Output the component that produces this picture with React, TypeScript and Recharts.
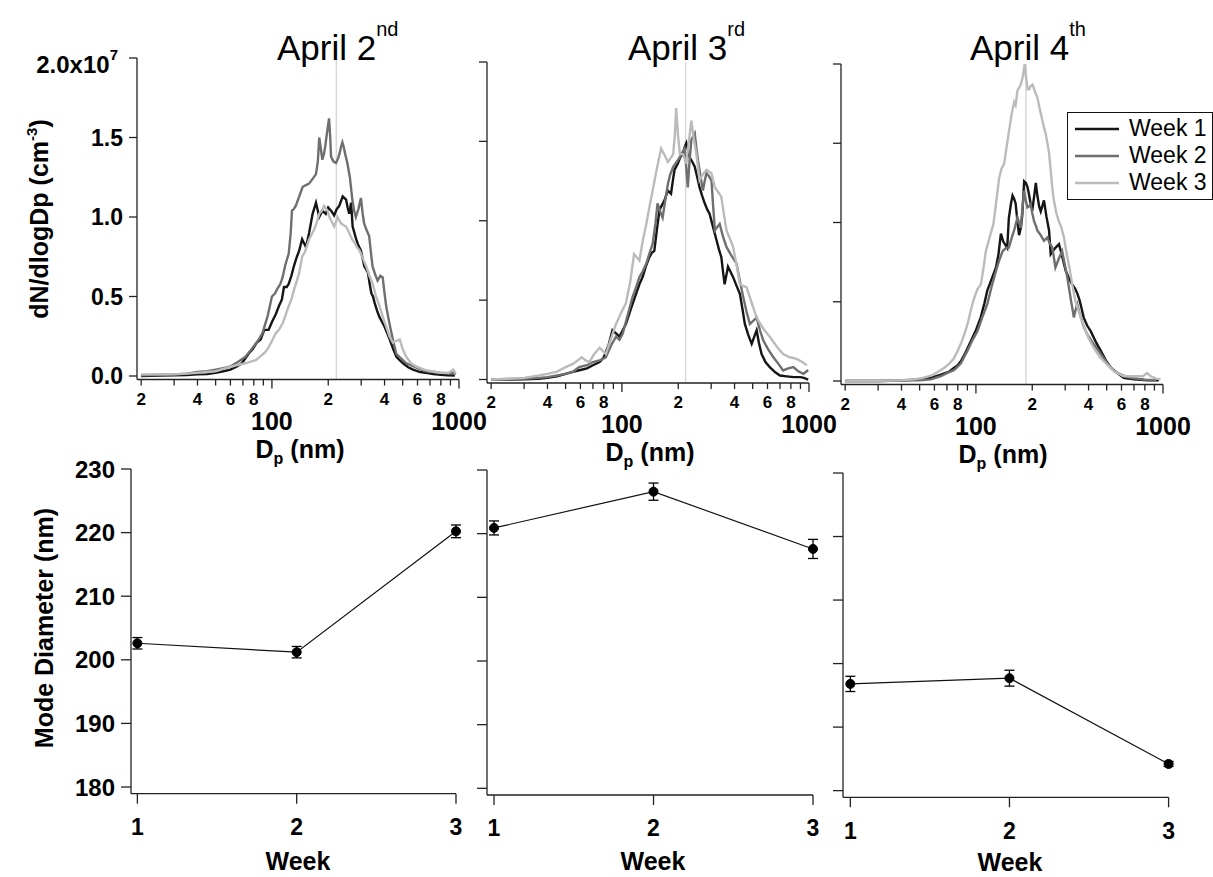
import { LineChart, Line, XAxis, YAxis, ReferenceLine, ErrorBar, Legend } from 'recharts';

const FONT = '"Liberation Sans", Arial, sans-serif';
const AXIS = '#222';
const WEEK_COLORS = ['#151515', '#6f6f6f', '#bbbbbb'];
const weekNames = ['Week 1', 'Week 2', 'Week 3'];

type Pt = [number, number]; // [Dp (nm), dN/dlogDp (1e7 cm-3)]

const dpTicks = [20, 30, 40, 50, 60, 70, 80, 90, 100, 200, 300, 400, 500, 600, 700, 800, 900, 1000];
const dnTicks = [0, 0.5, 1, 1.5, 2];
const sizeModeLines = [221, 219, 185];

// April 2nd
const apr2Week1: Pt[] = [
  [20, 0], [25, 0.003], [30, 0.005], [35, 0.006], [40, 0.01], [45, 0.012], [50, 0.02], [55, 0.03], [60, 0.04], [65, 0.06],
  [69, 0.08], [75, 0.14], [79, 0.17], [83, 0.21], [87, 0.23], [91, 0.29], [96, 0.29], [100, 0.34], [105, 0.39], [109, 0.44],
  [113, 0.48], [116, 0.56], [120, 0.56], [123, 0.58], [127, 0.63], [131, 0.69], [135, 0.74], [140, 0.79], [145, 0.86], [152, 0.81],
  [158, 0.9], [165, 1.02], [172, 1.09], [179, 1.0], [186, 1.04], [194, 1.02], [200, 1.06], [207, 1.04], [215, 1.01], [222, 1.05],
  [229, 1.07], [239, 1.13], [249, 1.11], [254, 1.06], [259, 1.02], [265, 1.09], [270, 0.94], [276, 0.9], [282, 0.86], [290, 0.82],
  [299, 0.79], [305, 0.74], [312, 0.69], [326, 0.65], [333, 0.58], [340, 0.52], [347, 0.5], [354, 0.46], [365, 0.41], [376, 0.37],
  [388, 0.34], [400, 0.31], [413, 0.27], [426, 0.23], [445, 0.17], [463, 0.12], [482, 0.1], [502, 0.08], [535, 0.055], [568, 0.04],
  [620, 0.025], [680, 0.018], [728, 0.013], [800, 0.008], [870, 0.005], [950, 0.003],
];
const apr2Week2: Pt[] = [
  [20, 0.005], [25, 0.008], [30, 0.01], [35, 0.015], [40, 0.025], [45, 0.03], [50, 0.04], [55, 0.05], [60, 0.06], [66, 0.09],
  [72, 0.12], [78, 0.17], [84, 0.22], [89, 0.27], [95, 0.38], [100, 0.5], [104, 0.52], [107, 0.55], [111, 0.58], [114, 0.62],
  [118, 0.7], [123, 0.77], [126, 0.9], [128, 1.04], [131, 1.05], [134, 1.07], [140, 1.13], [146, 1.19], [152, 1.2], [158, 1.21],
  [165, 1.24], [172, 1.27], [176, 1.35], [179, 1.5], [183, 1.42], [186, 1.36], [190, 1.4], [193, 1.45], [198, 1.55], [202, 1.62],
  [205, 1.5], [207, 1.38], [213, 1.35], [220, 1.34], [226, 1.37], [230, 1.4], [234, 1.44], [238, 1.47], [242, 1.44], [246, 1.4],
  [253, 1.34], [261, 1.25], [269, 1.11], [275, 1.04], [281, 1.0], [290, 1.05], [299, 1.12], [305, 1.03], [311, 0.96], [320, 0.92],
  [331, 0.88], [338, 0.78], [345, 0.69], [356, 0.64], [367, 0.6], [380, 0.63], [391, 0.62], [400, 0.52], [408, 0.44], [420, 0.36],
  [430, 0.3], [445, 0.22], [462, 0.14], [490, 0.11], [523, 0.08], [560, 0.065], [600, 0.05], [670, 0.03], [750, 0.025], [800, 0.02],
  [880, 0.015], [930, 0.02], [960, 0.01],
];
const apr2Week3: Pt[] = [
  [20, 0.01], [25, 0.01], [30, 0.01], [35, 0.015], [40, 0.02], [45, 0.025], [50, 0.03], [55, 0.045], [61, 0.06], [66, 0.07],
  [72, 0.08], [77, 0.09], [82, 0.1], [88, 0.13], [92, 0.15], [96, 0.18], [100, 0.22], [105, 0.27], [109, 0.29], [114, 0.33],
  [118, 0.38], [123, 0.44], [127, 0.48], [131, 0.54], [136, 0.6], [140, 0.65], [145, 0.75], [150, 0.78], [154, 0.82], [158, 0.86],
  [163, 0.89], [168, 0.92], [173, 0.96], [179, 1.02], [185, 1.04], [190, 1.07], [198, 1.04], [203, 1.0], [207, 0.98], [211, 0.96],
  [215, 0.94], [220, 0.97], [224, 1.0], [229, 0.98], [234, 0.96], [241, 0.95], [249, 0.94], [254, 0.92], [259, 0.9], [268, 0.86],
  [276, 0.84], [285, 0.81], [294, 0.79], [306, 0.74], [319, 0.69], [332, 0.63], [346, 0.58], [360, 0.5], [376, 0.44], [392, 0.37],
  [408, 0.31], [425, 0.25], [443, 0.21], [460, 0.22], [482, 0.23], [500, 0.17], [523, 0.12], [555, 0.08], [591, 0.06], [650, 0.04],
  [728, 0.027], [800, 0.02], [880, 0.02], [932, 0.04], [960, 0.015],
];

// April 3rd
const apr3Week1: Pt[] = [
  [20, 0], [25, 0], [30, 0.002], [36, 0.005], [40, 0.01], [45, 0.02], [50, 0.035], [54, 0.046], [60, 0.06], [65, 0.07],
  [70, 0.09], [76, 0.11], [80, 0.14], [85, 0.22], [89, 0.31], [93, 0.29], [97, 0.27], [101, 0.31], [105, 0.35], [112, 0.45],
  [119, 0.54], [124, 0.6], [129, 0.645], [134, 0.71], [140, 0.77], [145, 0.8], [149, 0.81], [154, 0.95], [159, 1.07], [164, 1.1],
  [169, 1.13], [176, 1.19], [183, 1.17], [187, 1.25], [191, 1.32], [199, 1.36], [205, 1.4], [212, 1.42], [216, 1.46], [221, 1.49],
  [226, 1.44], [230, 1.4], [238, 1.37], [245, 1.34], [252, 1.28], [260, 1.21], [268, 1.16], [277, 1.11], [286, 1.07], [294, 1.045],
  [307, 0.96], [320, 0.88], [330, 0.82], [340, 0.77], [347, 0.68], [354, 0.6], [362, 0.66], [369, 0.71], [380, 0.68], [393, 0.645],
  [410, 0.59], [427, 0.54], [440, 0.45], [454, 0.35], [474, 0.28], [494, 0.225], [510, 0.27], [525, 0.31], [540, 0.23], [558, 0.16],
  [585, 0.11], [617, 0.078], [660, 0.045], [700, 0.025], [760, 0.02], [830, 0.015], [898, 0.015], [940, 0.01], [990, 0],
];
const apr3Week2: Pt[] = [
  [20, 0], [25, 0.003], [30, 0.005], [36, 0.01], [40, 0.015], [45, 0.025], [50, 0.035], [55, 0.05], [59, 0.078], [65, 0.09],
  [70, 0.11], [76, 0.12], [82, 0.14], [88, 0.22], [93, 0.27], [97, 0.25], [101, 0.29], [107, 0.4], [114, 0.52], [119, 0.58],
  [124, 0.645], [129, 0.68], [135, 0.73], [140, 0.79], [146, 0.856], [151, 0.98], [155, 1.11], [160, 1.06], [165, 1.02], [170, 1.12],
  [176, 1.23], [181, 1.29], [188, 1.34], [196, 1.37], [204, 1.4], [210, 1.43], [216, 1.455], [220, 1.36], [225, 1.21], [230, 1.38],
  [235, 1.51], [240, 1.53], [245, 1.55], [250, 1.46], [255, 1.38], [263, 1.28], [271, 1.19], [277, 1.25], [283, 1.3], [292, 1.28],
  [301, 1.255], [307, 1.1], [314, 0.94], [323, 0.96], [333, 0.98], [347, 0.9], [362, 0.835], [385, 0.78], [410, 0.73], [427, 0.62],
  [445, 0.52], [463, 0.43], [483, 0.35], [503, 0.37], [525, 0.39], [547, 0.31], [570, 0.246], [605, 0.19], [645, 0.14], [685, 0.1],
  [727, 0.057], [775, 0.07], [825, 0.078], [880, 0.05], [935, 0.036], [990, 0.06],
];
const apr3Week3: Pt[] = [
  [20, 0], [25, 0.005], [30, 0.01], [36, 0.025], [40, 0.035], [45, 0.05], [50, 0.078], [55, 0.1], [61, 0.14], [64, 0.12],
  [67, 0.11], [71, 0.16], [76, 0.2], [79, 0.18], [82, 0.16], [87, 0.25], [93, 0.35], [99, 0.42], [105, 0.48], [111, 0.62],
  [116, 0.79], [120, 0.77], [124, 0.75], [129, 0.87], [135, 0.98], [140, 1.08], [146, 1.19], [152, 1.3], [157, 1.38], [162, 1.455],
  [168, 1.42], [176, 1.37], [181, 1.39], [188, 1.42], [192, 1.55], [195, 1.71], [199, 1.55], [204, 1.42], [212, 1.42], [221, 1.36],
  [228, 1.5], [235, 1.63], [242, 1.52], [250, 1.42], [260, 1.255], [270, 1.29], [283, 1.32], [292, 1.31], [301, 1.3], [314, 1.21],
  [327, 1.18], [340, 1.15], [350, 1.05], [362, 0.94], [377, 0.89], [393, 0.835], [410, 0.72], [427, 0.6], [445, 0.59], [464, 0.58],
  [495, 0.48], [525, 0.39], [570, 0.32], [617, 0.27], [670, 0.21], [727, 0.16], [790, 0.14], [860, 0.13], [920, 0.11], [975, 0.09],
];

// April 4th
const apr4Week1: Pt[] = [
  [20, 0], [30, 0], [40, 0.003], [50, 0.01], [57.5, 0.02], [65, 0.04], [72, 0.06], [76.6, 0.084], [80, 0.1], [83.2, 0.126],
  [88, 0.18], [94, 0.253], [100, 0.32], [106, 0.4], [111, 0.49], [115, 0.57], [121, 0.64], [128, 0.716], [132, 0.8], [136, 0.93],
  [140, 0.88], [147, 0.84], [150, 1.03], [154, 1.12], [157, 1.17], [160, 1.15], [163, 1.12], [167, 1.0], [170, 0.92], [174, 0.97],
  [177, 1.05], [181, 1.26], [185, 1.25], [189, 1.22], [192, 1.18], [196, 1.12], [201, 1.095], [205, 1.17], [209, 1.25], [213, 1.17],
  [218, 1.1], [222, 1.07], [226, 1.1], [231, 1.14], [238, 1.04], [246, 0.95], [251, 0.8], [258, 0.82], [266, 0.84], [278, 0.864],
  [290, 0.78], [302, 0.695], [314, 0.65], [327, 0.61], [340, 0.58], [349, 0.55], [358, 0.51], [365, 0.47], [377, 0.4], [393, 0.35],
  [410, 0.316], [436, 0.25], [465, 0.19], [495, 0.13], [525, 0.084], [570, 0.05], [616, 0.02], [700, 0.01], [822, 0.005], [950, 0.005],
];
const apr4Week2: Pt[] = [
  [20, 0], [30, 0], [40, 0.003], [50, 0.005], [57.5, 0.01], [65, 0.03], [70, 0.05], [76.6, 0.07], [83, 0.11], [90, 0.19],
  [96, 0.26], [102, 0.316], [108, 0.4], [115, 0.485], [121, 0.59], [128, 0.695], [133, 0.76], [139, 0.82], [145, 0.84], [150, 0.842],
  [155, 0.9], [160, 0.95], [166.6, 1.03], [170, 1.0], [173.7, 0.968], [177, 1.08], [180.8, 1.2], [184, 1.15], [188.4, 1.095], [192, 1.1],
  [196, 1.116], [200, 1.06], [204.4, 1.01], [209, 0.98], [213, 0.95], [222, 0.92], [231, 0.884], [240.7, 0.905], [248, 0.87], [256, 0.842],
  [261, 0.78], [266, 0.716], [277, 0.77], [289, 0.82], [298, 0.74], [308, 0.653], [321, 0.52], [334, 0.4], [341, 0.45], [348, 0.485],
  [360, 0.42], [375, 0.35], [393, 0.295], [428, 0.23], [465, 0.17], [505, 0.11], [548, 0.063], [610, 0.035], [670, 0.02], [800, 0.008],
  [920, 0.005],
];
const apr4Week3: Pt[] = [
  [20, 0], [25, 0], [30, 0.002], [35, 0.003], [40, 0.005], [46.9, 0.01], [52, 0.02], [58, 0.035], [63, 0.06], [67.8, 0.084],
  [72, 0.11], [76, 0.14], [79.9, 0.19], [84, 0.25], [87, 0.3], [90.3, 0.36], [94, 0.45], [98, 0.526], [102, 0.58], [106.3, 0.61],
  [110, 0.72], [113, 0.82], [118, 0.9], [124, 0.99], [129, 1.15], [133, 1.28], [137, 1.34], [141.5, 1.37], [146, 1.48], [150.4, 1.58],
  [155, 1.68], [160, 1.76], [163, 1.74], [166.6, 1.83], [170, 1.85], [173.7, 1.87], [178, 1.92], [182.4, 2.0], [186, 1.9], [189, 1.84],
  [192.3, 1.84], [196, 1.86], [200.6, 1.87], [205, 1.84], [209, 1.81], [213, 1.79], [219, 1.72], [225, 1.66], [231, 1.6], [236, 1.56],
  [241, 1.5], [246, 1.44], [251, 1.33], [256, 1.22], [261, 1.14], [269, 1.06], [277, 1.01], [286, 0.97], [295, 0.91], [306, 0.8],
  [316, 0.716], [328, 0.6], [341, 0.5], [355, 0.44], [368, 0.38], [380, 0.34], [400, 0.27], [426, 0.21], [460, 0.15], [502, 0.105],
  [550, 0.06], [616, 0.03], [700, 0.03], [780, 0.03], [822, 0.05], [860, 0.03], [920, 0.015], [970, 0.01],
];

// Mode diameter per week (nm) with error bars
const weeks = [1, 2, 3];
const weekTicks = [1, 2, 3];
const modeTicks = [180, 190, 200, 210, 220, 230];
const apr2Mode = [202.6, 201.2, 220.2];
const apr2ModeErr = [0.9, 0.9, 1.0];
const apr3Mode = [220.9, 226.6, 217.6];
const apr3ModeErr = [1.1, 1.35, 1.5];
const apr4Mode = [196.8, 197.7, 184.2];
const apr4ModeErr = [1.2, 1.25, 0.4];

const toRows = (pts: Pt[]) => pts.map(([dp, dn]) => ({ dp, dn }));

function DpTick({ x, y, payload }: any) {
  const v = payload.value;
  const major = v === 100 || v === 1000;
  const lead = Math.round(v / (v >= 100 ? 100 : 10));
  return (
    <g>
      <line x1={x} x2={x} y1={y} y2={y + (major ? 9 : 6)} stroke={AXIS} strokeWidth={1.3} />
      {major ? (
        <text x={x} y={y + 50} textAnchor="middle" fontSize={25} fontWeight="bold" fontFamily={FONT} fill="#000">
          {v}
        </text>
      ) : lead % 2 === 0 ? (
        <text x={x} y={y + 25} textAnchor="middle" fontSize={17} fontWeight="bold" fontFamily={FONT} fill="#000">
          {lead}
        </text>
      ) : null}
    </g>
  );
}

function DnTick({ x, y, payload }: any) {
  const v = payload.value;
  if (v === 2) {
    return (
      <text x={x - 5} y={y + 15} textAnchor="end" fontSize={24} fontWeight="bold" fontFamily={FONT} fill="#000">
        <tspan>2.0x10</tspan>
        <tspan dy={-13} fontSize={15}>7</tspan>
      </text>
    );
  }
  return (
    <text x={x} y={y + 8} textAnchor="end" fontSize={23} fontWeight="bold" fontFamily={FONT} fill="#000">
      {v.toFixed(1)}
    </text>
  );
}

const NoLabel = () => <g />;

function WeekLegend({ payload }: any) {
  return (
    <div style={{ border: '1.5px solid #111', background: '#fff', padding: '2px 0 3px 7px', boxSizing: 'border-box', width: 146 }}>
      {(payload || []).map((p: any) => (
        <div key={p.value} style={{ display: 'flex', alignItems: 'center', height: 27 }}>
          <svg width={44} height={10}>
            <line x1={0} x2={44} y1={5} y2={5} stroke={p.color} strokeWidth={2.5} />
          </svg>
          <span style={{ marginLeft: 10, fontSize: 23, fontFamily: FONT, color: '#000', lineHeight: '27px' }}>{p.value}</span>
        </div>
      ))}
    </div>
  );
}

type Frame = { left: number; top: number; w: number; h: number };

const LEGEND_POS = { x: 1067, y: 112 };

function SizePanel({ frame, series, modeLine, first, legend }: { frame: Frame; series: Pt[][]; modeLine: number; first?: boolean; legend?: boolean }) {
  const yw = first ? frame.left : 60;
  const mt = 24;
  const mr = 40;
  const xh = 95;
  const divLeft = frame.left - yw;
  const divTop = frame.top - mt;
  return (
    <div style={{ position: 'absolute', left: divLeft, top: divTop }}>
      <LineChart width={yw + frame.w + mr} height={mt + frame.h + xh} margin={{ top: mt, right: mr, bottom: 0, left: 0 }}>
        <XAxis
          type="number"
          dataKey="dp"
          scale="log"
          domain={[19, 1000]}
          allowDataOverflow
          ticks={dpTicks}
          interval={0}
          tickLine={false}
          tickSize={0}
          tickMargin={0}
          tick={<DpTick />}
          height={xh}
          stroke={AXIS}
          strokeWidth={1.3}
        />
        <YAxis
          type="number"
          dataKey="dn"
          domain={[-0.022, 2]}
          allowDataOverflow
          ticks={dnTicks}
          interval={0}
          width={yw}
          tickSize={8}
          tickMargin={6}
          tick={first ? <DnTick /> : <NoLabel />}
          stroke={AXIS}
          strokeWidth={1.3}
        />
        <ReferenceLine x={modeLine} stroke="#d8d8d8" strokeWidth={1.5} />
        {series.map((pts, i) => (
          <Line
            key={weekNames[i]}
            data={toRows(pts)}
            dataKey="dn"
            name={weekNames[i]}
            type="linear"
            stroke={WEEK_COLORS[i]}
            strokeWidth={2.4}
            dot={false}
            isAnimationActive={false}
          />
        ))}
        {legend && (
          <Legend
            layout="horizontal"
            verticalAlign="middle"
            align="center"
            content={<WeekLegend />}
            wrapperStyle={{ position: 'absolute', left: LEGEND_POS.x - divLeft, top: LEGEND_POS.y - divTop, width: 146, height: 'auto' }}
          />
        )}
      </LineChart>
    </div>
  );
}

function ModePanel({ frame, xMin, modes, errs, first }: { frame: Frame; xMin: number; modes: number[]; errs: number[]; first?: boolean }) {
  const yw = first ? frame.left : 60;
  const mt = 22;
  const mr = 20;
  const xh = 60;
  const rows = weeks.map((w, i) => ({ week: w, mode: modes[i], err: errs[i] }));
  return (
    <div style={{ position: 'absolute', left: frame.left - yw, top: frame.top - mt }}>
      <LineChart width={yw + frame.w + mr} height={mt + frame.h + xh} data={rows} margin={{ top: mt, right: mr, bottom: 0, left: 0 }}>
        <XAxis
          type="number"
          dataKey="week"
          domain={[xMin, 3]}
          ticks={weekTicks}
          interval={0}
          tickSize={10}
          tickMargin={15}
          tick={{ fontSize: 23, fontWeight: 'bold', fill: '#000', fontFamily: FONT }}
          height={xh}
          stroke={AXIS}
          strokeWidth={1.3}
        />
        <YAxis
          type="number"
          domain={[178.95, 230]}
          ticks={modeTicks}
          interval={0}
          width={yw}
          tickSize={10}
          tickMargin={6}
          tick={first ? { fontSize: 24, fontWeight: 'bold', fill: '#000', fontFamily: FONT } : <NoLabel />}
          stroke={AXIS}
          strokeWidth={1.3}
        />
        <Line
          dataKey="mode"
          type="linear"
          stroke="#111"
          strokeWidth={1.2}
          dot={{ r: 4.5, fill: '#000', stroke: '#000', strokeWidth: 1 }}
          isAnimationActive={false}
        >
          <ErrorBar dataKey="err" direction="y" width={5} stroke="#000" strokeWidth={1.3} />
        </Line>
      </LineChart>
    </div>
  );
}

const txt = { fontFamily: FONT, fill: '#000' };

export default function App() {
  return (
    <div style={{ position: 'absolute', left: 0, top: 0, width: 1213, height: 877, background: '#fff', overflow: 'hidden' }}>
      <SizePanel frame={{ left: 137, top: 58, w: 322, h: 321.5 }} series={[apr2Week1, apr2Week2, apr2Week3]} modeLine={sizeModeLines[0]} first />
      <SizePanel frame={{ left: 487, top: 62, w: 322, h: 321 }} series={[apr3Week1, apr3Week2, apr3Week3]} modeLine={sizeModeLines[1]} />
      <SizePanel frame={{ left: 841, top: 63.5, w: 322, h: 320.5 }} series={[apr4Week1, apr4Week2, apr4Week3]} modeLine={sizeModeLines[2]} legend />

      <ModePanel frame={{ left: 131, top: 469.3, w: 325, h: 324.7 }} xMin={0.96} modes={apr2Mode} errs={apr2ModeErr} first />
      <ModePanel frame={{ left: 487.3, top: 470, w: 326, h: 325 }} xMin={0.956} modes={apr3Mode} errs={apr3ModeErr} />
      <ModePanel frame={{ left: 842.7, top: 472.7, w: 325.6, h: 324.3 }} xMin={0.954} modes={apr4Mode} errs={apr4ModeErr} />

      <svg width={1213} height={877} style={{ position: 'absolute', left: 0, top: 0, pointerEvents: 'none' }}>
        <text x={277} y={60} fontSize={35} {...txt}>
          April 2<tspan dy={-24} fontSize={20}>nd</tspan>
        </text>
        <text x={628} y={60} fontSize={35} {...txt}>
          April 3<tspan dy={-24} fontSize={20}>rd</tspan>
        </text>
        <text x={970} y={60} fontSize={35} {...txt}>
          April 4<tspan dy={-24} fontSize={20}>th</tspan>
        </text>

        <text transform="translate(48,219) rotate(-90)" textAnchor="middle" fontSize={25} fontWeight="bold" {...txt}>
          dN/dlogDp (cm<tspan dy={-11} fontSize={15}>-3</tspan><tspan dy={11}>)</tspan>
        </text>
        <text transform="translate(53,628) rotate(-90)" textAnchor="middle" fontSize={25} fontWeight="bold" {...txt}>
          Mode Diameter (nm)
        </text>

        {[
          [300, 458],
          [650, 461],
          [1003, 463],
        ].map(([cx, by]) => (
          <text key={cx} x={cx} y={by} textAnchor="middle" fontSize={25} fontWeight="bold" {...txt}>
            D<tspan dy={6} fontSize={16}>p</tspan><tspan dy={-6}> (nm)</tspan>
          </text>
        ))}
        {[
          [298, 870],
          [653, 870],
          [1010, 871],
        ].map(([cx, by]) => (
          <text key={cx} x={cx} y={by} textAnchor="middle" fontSize={25} fontWeight="bold" {...txt}>
            Week
          </text>
        ))}
      </svg>
    </div>
  );
}
